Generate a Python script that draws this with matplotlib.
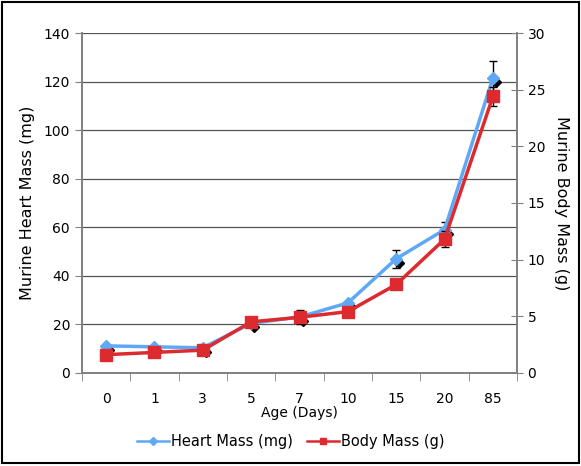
import numpy as np
import matplotlib.pyplot as plt
import matplotlib.transforms as mtransforms
from matplotlib.patches import Rectangle
from matplotlib.lines import Line2D

ages = ['0', '1', '3', '5', '7', '10', '15', '20', '85']
heart_mass = [11.1, 10.7, 10.3, 20.4, 23.0, 28.8, 47.0, 59.0, 121.5]
heart_err = [0, 0, 0, 0, 3.0, 0, 3.8, 3.2, 6.8]
body_mass = [1.6, 1.8, 2.0, 4.5, 4.9, 5.4, 7.8, 11.8, 24.4]
body_err = [0, 0, 0, 0, 0.5, 0, 0, 0.7, 0.8]

blue = '#5fa8f5'
red = '#dc2a2e'


def main():
    fig = plt.figure(figsize=(5.81, 4.66), dpi=100)
    ax = fig.add_axes([0.141, 0.2, 0.749, 0.729])
    ax2 = ax.twinx()
    x = np.arange(len(ages))

    # black "shadow" markers offset a few pixels
    shadow = ax.transData + mtransforms.ScaledTranslation(3 / 100, -4 / 100, fig.dpi_scale_trans)
    ax.plot(x, heart_mass, 'D', color='black', ms=5, transform=shadow, zorder=2)
    ax.errorbar(x, heart_mass, yerr=heart_err, fmt='none', ecolor='black',
                elinewidth=1, capsize=3, zorder=3)
    ax.plot(x, heart_mass, '-D', color=blue, lw=2.5, ms=6, zorder=4)

    ax2.errorbar(x, body_mass, yerr=body_err, fmt='none', ecolor='black',
                 elinewidth=1, capsize=3, zorder=3)
    ax2.plot(x, body_mass, '-s', color=red, lw=2.5, ms=8, zorder=4)

    ax.set_xlim(-0.5, len(ages) - 0.5)
    ax.set_ylim(0, 140)
    ax.set_yticks(np.arange(0, 141, 20))
    ax2.set_ylim(0, 30)
    ax2.set_yticks(np.arange(0, 31, 5))
    ax.set_xticks(x)
    ax.set_xticklabels(ages)
    ax.set_xticks(np.arange(-0.5, len(ages), 1), minor=True)
    ax.tick_params(axis='x', which='major', length=0, pad=14)
    ax.tick_params(axis='x', which='minor', length=6, direction='out', color='#808080')
    ax.tick_params(axis='y', length=5, direction='out', color='#808080')
    ax2.tick_params(axis='y', length=8, direction='inout', color='#808080')
    for a in (ax, ax2):
        a.tick_params(labelsize=10)

    ax.yaxis.grid(True, color='#555555', lw=0.9)
    ax.set_axisbelow(True)
    for a in (ax, ax2):
        a.spines['top'].set_visible(False)
        for s in ('left', 'right', 'bottom'):
            a.spines[s].set_color('#808080')
            a.spines[s].set_linewidth(1.2)

    ax.set_xlabel('Age (Days)', fontsize=10, labelpad=0)
    ax.set_ylabel('Murine Heart Mass (mg)', fontsize=11.5, labelpad=6)
    ax2.set_ylabel('Murine Body Mass (g)', fontsize=11.5, rotation=270, labelpad=17)

    handles = [Line2D([], [], color=blue, lw=1.8, marker='D', ms=4),
               Line2D([], [], color=red, lw=1.8, marker='s', ms=5)]
    fig.legend(handles, ['Heart Mass (mg)', 'Body Mass (g)'], loc='center',
               bbox_to_anchor=(0.5, 0.053), ncol=2, frameon=False, fontsize=10.5,
               handlelength=2.2, handletextpad=0.1, columnspacing=1.0)

    fig.patches.append(Rectangle((0.003, 0.006), 0.994, 0.99, transform=fig.transFigure,
                                 fill=False, edgecolor='black', lw=1.5))
    fig.savefig('out.png', dpi=100)


if __name__ == '__main__':
    main()
